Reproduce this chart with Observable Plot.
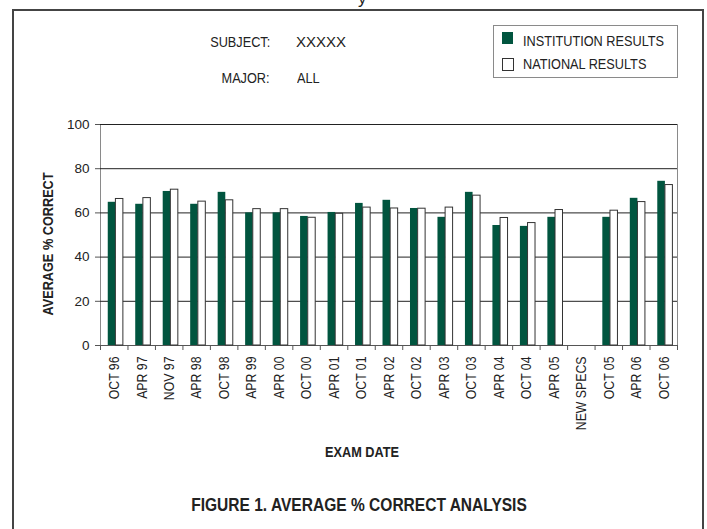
<!DOCTYPE html>
<html><head><meta charset="utf-8">
<script src="https://cdn.jsdelivr.net/npm/d3@7"></script>
<script src="https://cdn.jsdelivr.net/npm/@observablehq/plot@0.6"></script>
<style>
body{margin:0;background:#fff;}
#wrap{position:relative;width:707px;height:529px;overflow:hidden;font-family:'Liberation Sans',Arial,sans-serif;color:#222;}
.t{position:absolute;white-space:nowrap;line-height:1;font-size:15.5px;}
.n{transform:scaleX(0.82);transform-origin:left center;}
.nr{transform:scaleX(0.82);transform-origin:right center;}
.b{font-weight:bold;}
</style></head><body>
<div id="wrap">
  <div style="position:absolute;left:12px;top:9px;width:688px;height:600px;border:2px solid #444;"></div>
  <div id="chart" style="position:absolute;left:0;top:0;"></div>
  <div class="t" style="left:358px;top:-10px;font-size:17px;">y</div>
  <div class="t nr" id="subjLbl" style="right:437px;top:33.6px;"></div>
  <div class="t" id="subjVal" style="left:296px;top:34px;font-size:15px;"></div>
  <div class="t nr" id="majLbl" style="right:437px;top:69.6px;"></div>
  <div class="t n" id="majVal" style="left:297px;top:69.6px;"></div>
  <div style="position:absolute;left:493px;top:25px;width:183px;height:51px;border:1px solid #8a8a8a;"></div>
  <div style="position:absolute;left:502px;top:32px;width:11px;height:12px;background:#01553f;"></div>
  <div style="position:absolute;left:502px;top:58px;width:10px;height:11px;background:#fff;border:1px solid #333;"></div>
  <div class="t n" id="leg1" style="left:523px;top:32.6px;"></div>
  <div class="t n" id="leg2" style="left:523px;top:56.2px;"></div>
  <div class="t b" id="ylab" style="left:48px;top:243.5px;transform:translate(-50%,-50%) rotate(-90deg) scaleX(0.82);"></div>
  <div class="t b" id="xlab" style="left:362px;top:444.2px;transform:translateX(-50%) scaleX(0.82);"></div>
  <div class="t b" id="cap" style="left:358.5px;top:496px;font-size:18.5px;transform:translateX(-50%) scaleX(0.84);"></div>
</div>
<script>
const examDates = ["OCT 96","APR 97","NOV 97","APR 98","OCT 98","APR 99","APR 00","OCT 00","APR 01","OCT 01","APR 02","OCT 02","APR 03","OCT 03","APR 04","OCT 04","APR 05","NEW SPECS","OCT 05","APR 06","OCT 06"];
const institution = [64.8,63.9,69.7,63.9,69.3,60.0,60.0,58.4,60.2,64.3,65.7,62.0,58.0,69.3,54.3,53.9,58.0,null,58.0,66.6,74.3];
const national = [66.3,66.7,70.5,65.1,65.7,61.7,61.7,57.8,59.6,62.4,62.0,61.9,62.4,67.8,57.7,55.4,61.3,null,61.0,64.9,72.6];
const yTicks = [0,20,40,60,80,100];
const seriesNames = ["INSTITUTION RESULTS","NATIONAL RESULTS"];
const subjectLabel = "SUBJECT:", subjectValue = "XXXXX";
const majorLabel = "MAJOR:", majorValue = "ALL";
const yTitle = "AVERAGE % CORRECT", xTitle = "EXAM DATE";
const caption = "FIGURE 1. AVERAGE % CORRECT ANALYSIS";

document.getElementById("subjLbl").textContent = subjectLabel;
document.getElementById("subjVal").textContent = subjectValue;
document.getElementById("majLbl").textContent = majorLabel;
document.getElementById("majVal").textContent = majorValue;
document.getElementById("leg1").textContent = seriesNames[0];
document.getElementById("leg2").textContent = seriesNames[1];
document.getElementById("ylab").textContent = yTitle;
document.getElementById("xlab").textContent = xTitle;
document.getElementById("cap").textContent = caption;

const inst = examDates.map((d,i)=>({date:d, value:institution[i]}));
const nat = examDates.map((d,i)=>({date:d, value:national[i]}));
const green = "#01553f";
const half = (707-100-30)/examDates.length/2;

const svg = Plot.plot({
  width: 707, height: 470,
  marginLeft: 100, marginRight: 30, marginTop: 124, marginBottom: 125,
  style: {fontFamily: "'Liberation Sans',Arial,sans-serif", fontSize: "15px", color: "#222", background: "transparent"},
  x: {type: "band", domain: examDates, padding: 0, round: false, label: null},
  y: {domain: [0,100], label: null},
  marks: [
    Plot.frame({stroke: "#8a8a8a"}),
    Plot.gridY(yTicks, {stroke: "#222", strokeOpacity: 1}),
    Plot.ruleY([0], {stroke: "#555"}),
    Plot.barY(inst, {x: "date", y: "value", fill: green, insetLeft: 7.75, insetRight: 12.1}),
    Plot.barY(nat, {x: "date", y: "value", fill: "white", stroke: "#333", strokeWidth: 1, insetLeft: 15.4, insetRight: 4.6}),
    Plot.ruleX(examDates, {x: d=>d, y1: 0, y2: 0, dx: -half, insetBottom: -5, stroke: "#555"}),
    Plot.ruleX(examDates.slice(-1), {x: d=>d, y1: 0, y2: 0, dx: half, insetBottom: -5, stroke: "#555"}),
    Plot.axisY({ticks: yTicks, tickSize: 5, tickPadding: 6, label: null, fontSize: 13.5, stroke: "#555"}),
    Plot.axisX({tickSize: 0, tickPadding: 11, tickRotate: -90, label: null, fontSize: 15})
  ]
});
svg.querySelectorAll('g[aria-label="x-axis tick label"] text').forEach(t => {
  const tr = t.getAttribute("transform") || "";
  t.setAttribute("transform", tr + " scale(0.82,1)");
});
document.getElementById("chart").appendChild(svg);
</script>
</body></html>
